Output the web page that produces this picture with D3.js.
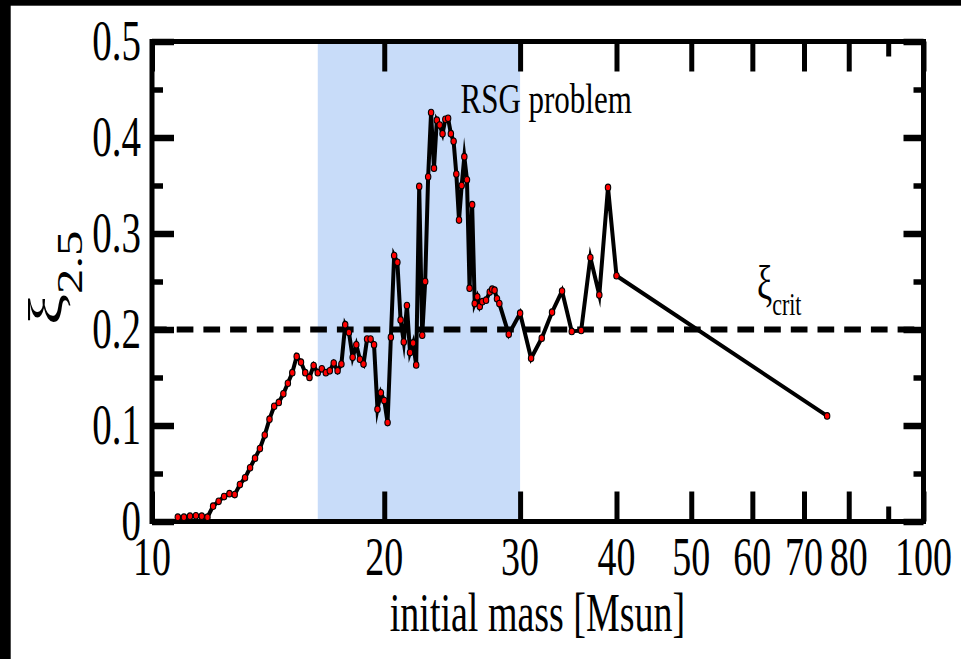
<!DOCTYPE html>
<html>
<head>
<meta charset="utf-8">
<script src="https://cdn.jsdelivr.net/npm/d3@7"></script>
<style>
  html, body { margin: 0; padding: 0; background: #fff; }
  svg { display: block; }
</style>
</head>
<body>
<svg id="chart" width="961" height="659"></svg>
<script>
// Compactness parameter xi_2.5 versus initial stellar mass
const masses = [
  10.8, 11.0, 11.2, 11.4, 11.6, 11.8, 12.0, 12.2, 12.4, 12.6, 12.8, 13.0,
  13.2, 13.4, 13.6, 13.8, 14.0, 14.2, 14.4, 14.6, 14.8, 15.0, 15.2, 15.4,
  15.6, 15.8, 16.0, 16.2, 16.4, 16.6, 16.8, 17.0, 17.2, 17.4, 17.6, 17.8,
  18.0, 18.2, 18.4, 18.6, 18.8, 19.0, 19.2, 19.4, 19.6, 19.8, 20.0, 20.2,
  20.4, 20.6, 20.8, 21.0, 21.2, 21.4, 21.6, 21.8, 22.0, 22.2, 22.4, 22.6,
  22.8, 23.0, 23.2, 23.4, 23.6, 23.8, 24.0, 24.2, 24.4, 24.6, 24.8, 25.0,
  25.2, 25.4, 25.6, 25.8, 26.0, 26.2, 26.4, 26.6, 26.8, 27.1, 27.4, 27.6,
  27.8, 28.0, 28.2, 29.0, 30.0, 31.0, 32.0, 33.0, 34.0, 35.0, 36.0, 37.0,
  38.0, 39.0, 40.0, 75.0
];
const xi = [
  0.0045, 0.0045, 0.0055, 0.006, 0.0055, 0.0045, 0.016, 0.021, 0.026, 0.029, 0.028, 0.0385,
  0.0455, 0.056, 0.066, 0.076, 0.090, 0.1066, 0.120, 0.124, 0.133, 0.144, 0.155, 0.172,
  0.166, 0.155, 0.150, 0.1625, 0.155, 0.159, 0.155, 0.157, 0.165, 0.157, 0.164, 0.205,
  0.197, 0.171, 0.184, 0.169, 0.164, 0.190, 0.190, 0.184, 0.117, 0.134, 0.126, 0.103,
  0.192, 0.277, 0.270, 0.210, 0.187, 0.225, 0.176, 0.186, 0.163, 0.349, 0.194, 0.250,
  0.359, 0.426, 0.368, 0.418, 0.413, 0.404, 0.419, 0.420, 0.404, 0.396, 0.362, 0.314,
  0.350, 0.380, 0.356, 0.243, 0.330, 0.227, 0.234, 0.224, 0.229, 0.2305, 0.239, 0.242,
  0.241, 0.232, 0.227, 0.195, 0.217, 0.170, 0.191, 0.218, 0.240, 0.198, 0.199, 0.275,
  0.236, 0.348, 0.256, 0.110
];

const xTickValues = [10, 20, 30, 40, 50, 60, 70, 80, 100];
const xMinorTicks = [90];
const yTickValues = [0, 0.1, 0.2, 0.3, 0.4, 0.5];
const yMinorTicks = [0.05, 0.15, 0.25, 0.35, 0.45];
const xiCrit = 0.2;
const rsgBand = [16.4, 30];

const FONT = "'Liberation Serif', 'Times New Roman', serif";
const STRETCH = 1.45;

const svg = d3.select("#chart");
const W = 961, H = 659;

const x = d3.scaleLog().domain([10, 100]).range([152, 923.5]);
const y = d3.scaleLinear().domain([0, 0.5]).range([521.5, 41.5]);

// page background with dark strips along the top and left edges
svg.append("rect").attr("width", W).attr("height", H).attr("fill", "#fff");
svg.append("rect").attr("x", 0).attr("y", 0).attr("width", W).attr("height", 5.7).attr("fill", "#000");
svg.append("rect").attr("x", 0).attr("y", 0).attr("width", 10.7).attr("height", H).attr("fill", "#000");

// red supergiant problem mass range
svg.append("rect")
  .attr("x", x(rsgBand[0]))
  .attr("y", y(0.5))
  .attr("width", x(rsgBand[1]) - x(rsgBand[0]))
  .attr("height", y(0) - y(0.5))
  .attr("fill", "#c8dcf9");

// critical compactness
svg.append("line")
  .attr("x1", x(10) - 2).attr("x2", x(100))
  .attr("y1", y(xiCrit)).attr("y2", y(xiCrit))
  .attr("stroke", "#000").attr("stroke-width", 6)
  .attr("stroke-dasharray", "16.7,10");

// axes: inward ticks on all four sides
function styleAxis(g, width) {
  g.select(".domain").remove();
  g.selectAll(".tick line").attr("stroke", "#000").attr("stroke-width", width);
  g.selectAll(".tick text").remove();
}
svg.append("g").attr("transform", `translate(0,${y(0)})`)
  .call(d3.axisBottom(x).tickValues(xTickValues).tickSize(-30).tickFormat(""))
  .call(g => styleAxis(g, 5));
svg.append("g").attr("transform", `translate(0,${y(0)})`)
  .call(d3.axisBottom(x).tickValues(xMinorTicks).tickSize(-15).tickFormat(""))
  .call(g => styleAxis(g, 5));
svg.append("g").attr("transform", `translate(0,${y(0.5)})`)
  .call(d3.axisTop(x).tickValues(xTickValues).tickSize(-30).tickFormat(""))
  .call(g => styleAxis(g, 5));
svg.append("g").attr("transform", `translate(0,${y(0.5)})`)
  .call(d3.axisTop(x).tickValues(xMinorTicks).tickSize(-15).tickFormat(""))
  .call(g => styleAxis(g, 5));
svg.append("g").attr("transform", `translate(${x(10)},0)`)
  .call(d3.axisLeft(y).tickValues(yTickValues).tickSize(-22).tickFormat(""))
  .call(g => styleAxis(g, 6.5));
svg.append("g").attr("transform", `translate(${x(10)},0)`)
  .call(d3.axisLeft(y).tickValues(yMinorTicks).tickSize(-11).tickFormat(""))
  .call(g => styleAxis(g, 5.5));
svg.append("g").attr("transform", `translate(${x(100)},0)`)
  .call(d3.axisRight(y).tickValues(yTickValues).tickSize(-20).tickFormat(""))
  .call(g => styleAxis(g, 6.5));
svg.append("g").attr("transform", `translate(${x(100)},0)`)
  .call(d3.axisRight(y).tickValues(yMinorTicks).tickSize(-10).tickFormat(""))
  .call(g => styleAxis(g, 5.5));

// plot frame
svg.append("rect")
  .attr("x", x(10)).attr("y", y(0.5))
  .attr("width", x(100) - x(10)).attr("height", y(0) - y(0.5))
  .attr("fill", "none").attr("stroke", "#000").attr("stroke-width", 5);

// data line and markers
const pts = masses.map((m, i) => [m, xi[i]]);
const line = d3.line().x(d => x(d[0])).y(d => y(d[1]));
svg.append("path")
  .datum(pts)
  .attr("d", line)
  .attr("fill", "none")
  .attr("stroke", "#000")
  .attr("stroke-width", 4)
  .attr("stroke-linejoin", "miter")
  .attr("stroke-miterlimit", 10);

svg.append("g").selectAll("ellipse")
  .data(pts)
  .join("ellipse")
  .attr("cx", d => x(d[0]))
  .attr("cy", d => y(d[1]))
  .attr("rx", 2.7)
  .attr("ry", 3.3)
  .attr("fill", "#ff0000")
  .attr("stroke", "#000")
  .attr("stroke-width", 1.1);

// text helper: vertically stretched serif type
function label(px, py, sy, size, anchor) {
  return svg.append("g")
    .attr("transform", `translate(${px},${py}) scale(1,${sy})`)
    .append("text")
    .attr("x", 0).attr("y", 0)
    .attr("font-family", FONT)
    .attr("font-size", size)
    .attr("text-anchor", anchor)
    .attr("fill", "#000");
}

// tick labels
yTickValues.forEach(v => {
  label(141, y(v) + 18.5, STRETCH, 39, "end").text(d3.format("")(v));
});
xTickValues.forEach(v => {
  label(x(v), 575, STRETCH, 38, "middle").text(v);
});

// axis titles
label(537.5, 631, STRETCH, 38, "middle").text("initial mass [Msun]");

const yt = svg.append("g")
  .attr("transform", `translate(61.5,325) rotate(-90) scale(${STRETCH},1)`)
  .append("text")
  .attr("font-family", FONT)
  .attr("font-size", 48)
  .attr("fill", "#000");
yt.append("tspan").text("ξ");
yt.append("tspan").attr("font-size", 35).attr("dy", 20.5).text("2.5");

// annotations
label(460.5, 113, 1.38, 31, "start").text("RSG problem");
const crit = label(757, 299, STRETCH, 34, "start");
crit.append("tspan").text("ξ");
crit.append("tspan").attr("font-size", 22).attr("dy", 11).text("crit");
</script>
</body>
</html>
